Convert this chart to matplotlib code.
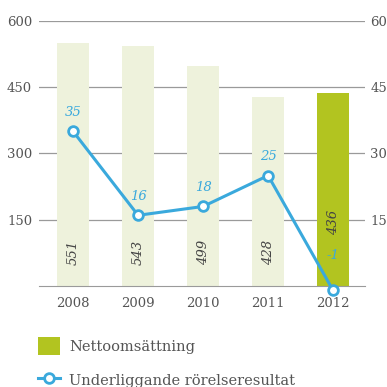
import matplotlib
matplotlib.use('Agg')
import matplotlib.pyplot as plt
from matplotlib.lines import Line2D
from matplotlib.patches import Patch

years = ['2008', '2009', '2010', '2011', '2012']
sales = [551, 543, 499, 428, 436]
profit = [35, 16, 18, 25, -1]
left_ticks = [150, 300, 450, 600]
right_ticks = [15, 30, 45, 60]

LIGHT = '#eef2dc'
GREEN = '#b2c420'
BLUE = '#3aa9dc'
GRAY = '#555555'
GRID = '#9a9a9a'

plt.rcParams['font.family'] = ['DejaVu Serif']

fig = plt.figure(figsize=(3.87, 3.87), dpi=100)
ax = fig.add_axes([0.101, 0.261, 0.842, 0.685])
x = list(range(len(years)))

colors = [LIGHT] * (len(years) - 1) + [GREEN]
ax.bar(x, sales, width=0.48, color=colors, zorder=2)
ax.set_ylim(0, 600)
ax.set_xlim(-0.523, 4.49)
ax.set_yticks(left_ticks)
ax.set_xticks(x)
ax.set_xticklabels(years)
ax.grid(axis='y', color=GRID, linewidth=0.9, zorder=0)
ax.set_axisbelow(True)
for s in ['left', 'right', 'top']:
    ax.spines[s].set_visible(False)
ax.spines['bottom'].set_color(GRID)
ax.tick_params(axis='both', length=0, colors=GRAY, labelsize=9.5)
ax.tick_params(axis='x', pad=8)
ax.tick_params(axis='y', pad=5)

# bar value labels
for i, v in enumerate(sales):
    ypos = 75 if i < len(years) - 1 else 143
    ax.text(i, ypos, str(v), rotation=90, style='italic', ha='center', va='center',
            color='#444444', fontsize=9.5, zorder=5)

ax2 = ax.twinx()
ax2.set_ylim(0, 60)
ax2.set_yticks(right_ticks)
for s in ['left', 'right', 'top', 'bottom']:
    ax2.spines[s].set_visible(False)
ax2.tick_params(axis='y', length=0, colors=GRAY, labelsize=9.5, pad=4)
ax2.plot(x, profit, color=BLUE, linewidth=2.2, marker='o', markersize=7,
         markerfacecolor='white', markeredgecolor=BLUE, markeredgewidth=2,
         clip_on=False, zorder=4)
for i, v in enumerate(profit):
    off = 4.3 if v >= 0 else 8.0
    ax2.text(i, v + off, str(v), style='italic', ha='center', va='center',
             color=BLUE, fontsize=9.5)

handles = [Patch(facecolor=GREEN, edgecolor='none'),
           Line2D([0], [0], color=BLUE, linewidth=2.2, marker='o', markersize=7,
                  markerfacecolor='white', markeredgecolor=BLUE, markeredgewidth=2)]
fig.legend(handles, ['Nettoomsättning', 'Underliggande rörelseresultat'],
           loc='upper left', bbox_to_anchor=(0.08, 0.148), frameon=False,
           fontsize=10.5, labelcolor=GRAY, handlelength=1.5, handleheight=1.5,
           labelspacing=1.15, handletextpad=0.6, borderpad=0)

fig.savefig('out.png', dpi=100)
